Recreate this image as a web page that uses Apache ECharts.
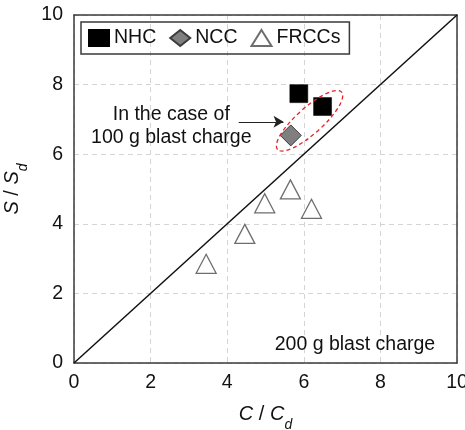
<!DOCTYPE html>
<html>
<head>
<meta charset="utf-8">
<script src="https://cdn.jsdelivr.net/npm/echarts@6/dist/echarts.min.js"></script>
<style>
html, body { margin: 0; padding: 0; background: #fff; }
#main { width: 465px; height: 430px; }
</style>
</head>
<body>
<div id="main"></div>
<script>
// data
var nhcX = [5.87, 6.49];
var nhcY = [7.74, 7.37];
var nccX = [5.66];
var nccY = [6.54];
var frccX = [3.45, 4.46, 4.98, 5.65, 6.2];
var frccY = [2.85, 3.71, 4.59, 4.99, 4.43];
var lineX = [0, 10];
var lineY = [0, 10];
var names = ['NHC', 'NCC', 'FRCCs'];

// annotation anchors (data space)
var noteText = 'In the case of\n100 g blast charge';
var noteAt = [2.54, 6.8];
var arrowFrom = [4.3, 6.93];
var arrowTo = [5.47, 6.93];
var ringAt = [6.15, 6.96];
var chargeText = '200 g blast charge';
var chargeAt = [9.43, 0.52];

function pairs(xs, ys) {
    var out = [];
    for (var i = 0; i < xs.length; i++) {
        out.push([xs[i], ys[i]]);
    }
    return out;
}

var font = 'Liberation Sans, Arial, sans-serif';
var frame = { color: '#3a3a3a', width: 1.5 };
var nameRich = {
    i: { fontSize: 20, fontStyle: 'italic', color: '#111', fontFamily: font, lineHeight: 35 },
    n: { fontSize: 20, color: '#111', fontFamily: font, lineHeight: 35 },
    s: { fontSize: 14, fontStyle: 'italic', color: '#111', fontFamily: font, verticalAlign: 'bottom', lineHeight: 14 }
};

var chart = echarts.init(document.getElementById('main'));

var option = {
    animation: false,
    textStyle: { fontFamily: font },
    grid: {
        left: 74, right: 8, top: 15, bottom: 67,
        containLabel: false, outerBoundsMode: 'none'
    },
    legend: {
        data: names,
        left: 81, top: 22,
        padding: [6, 9, 6, 7],
        itemWidth: 20, itemHeight: 16, itemGap: 13,
        borderColor: '#3a3a3a', borderWidth: 1.5, borderRadius: 0,
        textStyle: { fontSize: 19.5, color: '#111', fontFamily: font }
    },
    xAxis: [{
        type: 'value', min: 0, max: 10, interval: 2,
        name: '{i|C}{n| / }{i|C}{s|d}',
        nameLocation: 'middle', nameGap: 34,
        nameTextStyle: { rich: nameRich },
        axisLine: { onZero: false, lineStyle: frame },
        axisTick: { show: false },
        axisLabel: { fontSize: 19.5, color: '#111', margin: 10, fontFamily: font },
        splitLine: { lineStyle: { color: '#d4d4d4', type: [5, 4], width: 1 } }
    }, {
        type: 'value', min: 0, max: 10, interval: 2, position: 'top',
        axisLine: { onZero: false, lineStyle: frame },
        axisTick: { show: false }, axisLabel: { show: false }, splitLine: { show: false }
    }],
    yAxis: [{
        type: 'value', min: 0, max: 10, interval: 2,
        name: '{i|S}{n| / }{i|S}{s|d}',
        nameLocation: 'middle', nameGap: 38,
        nameTextStyle: { rich: nameRich },
        axisLine: { onZero: false, lineStyle: frame },
        axisTick: { show: false },
        axisLabel: { fontSize: 19.5, color: '#111', margin: 11, fontFamily: font },
        splitLine: { lineStyle: { color: '#d4d4d4', type: [5, 4], width: 1 } }
    }, {
        type: 'value', min: 0, max: 10, interval: 2, position: 'right',
        axisLine: { onZero: false, lineStyle: frame },
        axisTick: { show: false }, axisLabel: { show: false }, splitLine: { show: false }
    }],
    series: [
        {
            name: 'ratio', type: 'line', data: pairs(lineX, lineY),
            symbol: 'none', silent: true,
            lineStyle: { color: '#111', width: 1.5 },
            markLine: {
                silent: true, symbol: ['none', 'arrow'], symbolSize: [9, 10],
                label: { show: false },
                lineStyle: { color: '#222', width: 1, type: 'solid' },
                data: [[{ coord: arrowFrom }, { coord: arrowTo }]]
            },
            z: 1
        },
        {
            name: names[0], type: 'scatter', data: pairs(nhcX, nhcY),
            symbol: 'rect', symbolSize: 18,
            itemStyle: { color: '#000', borderColor: '#000', borderWidth: 0.5, opacity: 1 },
            z: 3
        },
        {
            name: names[1], type: 'scatter', data: pairs(nccX, nccY),
            symbol: 'diamond', symbolSize: 21,
            itemStyle: { color: '#7f7f7f', borderColor: '#3c3c3c', borderWidth: 1, opacity: 1 },
            z: 3
        },
        {
            name: names[2], type: 'scatter', data: pairs(frccX, frccY),
            symbol: 'triangle', symbolSize: [20, 19],
            itemStyle: { color: '#fff', borderColor: '#6e6e6e', borderWidth: 1.3, opacity: 1 },
            z: 3
        }
    ]
};

chart.setOption(option);

// annotations placed through the axes
var notePx = chart.convertToPixel({ gridIndex: 0 }, noteAt);
var ringPx = chart.convertToPixel({ gridIndex: 0 }, ringAt);
var chargePx = chart.convertToPixel({ gridIndex: 0 }, chargeAt);

chart.setOption({
    graphic: [
        {
            type: 'text', x: notePx[0], y: notePx[1], z: 10,
            style: {
                text: noteText, fill: '#111', font: '19.5px ' + font,
                align: 'center', verticalAlign: 'middle', lineHeight: 23
            }
        },
        {
            type: 'text', x: chargePx[0], y: chargePx[1], z: 10,
            style: {
                text: chargeText, fill: '#111', font: '19.5px ' + font,
                align: 'right', verticalAlign: 'middle'
            }
        },
        {
            type: 'ellipse', x: ringPx[0], y: ringPx[1], rotation: 0.73, z: 10,
            shape: { cx: 0, cy: 0, rx: 43, ry: 13 },
            style: { fill: 'none', stroke: '#e5232b', lineWidth: 1.3, lineDash: [4, 3] }
        }
    ]
});
</script>
</body>
</html>
